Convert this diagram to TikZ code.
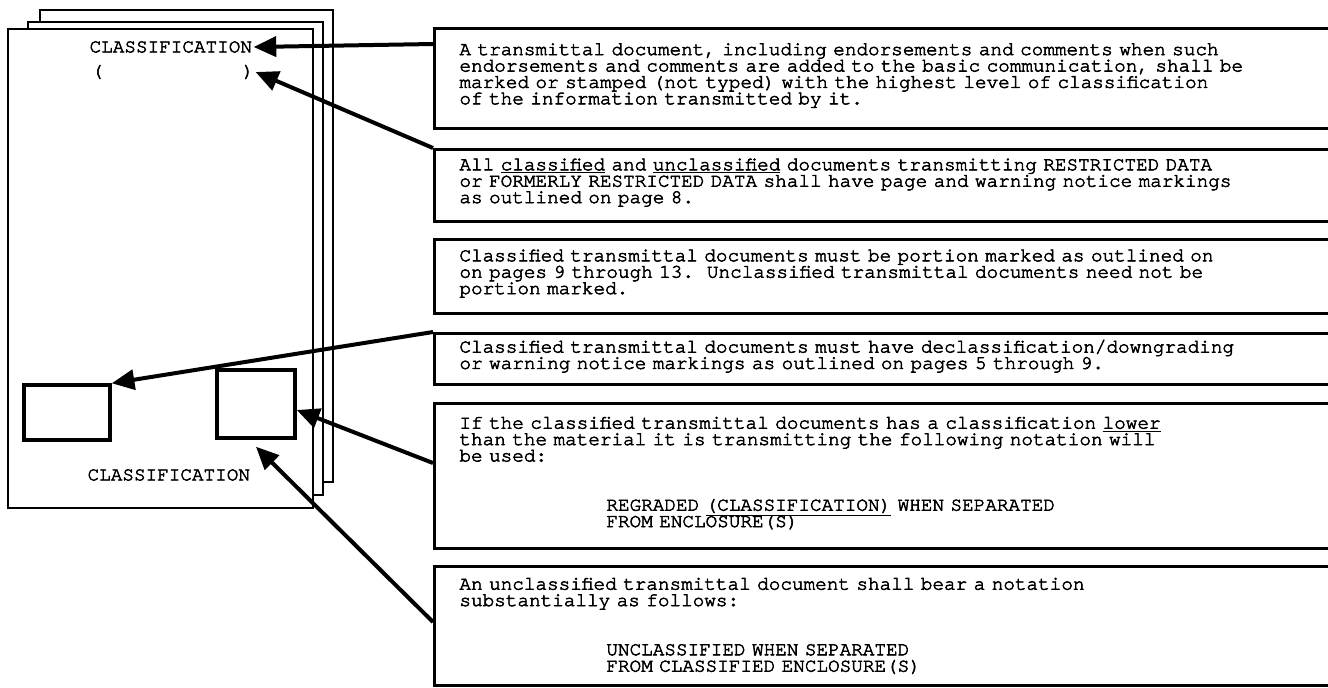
\documentclass[tikz,border=0pt]{standalone}
\usepackage{fontspec}
\newfontfamily\typer{texgyrecursor-regular.otf}[FakeBold=2.8]
\newcommand{\typewriter}{\typer\fontsize{14.5pt}{12.3pt}\selectfont\normalbaselineskip=12.3pt\lineskiplimit=-20pt\relax}
\usetikzlibrary{arrows.meta}

\begin{document}
\begin{tikzpicture}[x=0.75pt,y=-0.75pt]
	\tikzstyle{page} = [draw=black,fill=white,line width=2.2pt]
	\tikzstyle{typed} = [inner sep=1pt,font=\typewriter]
	\tikzstyle{stamp} = [draw=black,line width=2.6pt]
	\tikzstyle{note} = [typed,draw=black,line width=2.2pt,anchor=north west,inner xsep=18.75pt,inner ysep=2pt,text width=680pt,align=left]
	\tikzstyle{pointer} = [line width=3pt,-{Triangle[length=17pt,width=15pt]}]
	\useasboundingbox (0,0) rectangle (1328,687);
	\draw[page] (40,10) rectangle (333,482);
	\draw[page] (28,22) rectangle (323,495);
	\draw[page] (8,29) rectangle (313,508);
	\node[typed,anchor=west] (topcls) at (88,47) {CLASSIFICATION};
	\node[typed,anchor=west] (paren) at (90,72) {(\hspace{7.2em})};
	\node[typed,anchor=west] (botcls) at (86,475) {CLASSIFICATION};
	\node[stamp,minimum width=64.5pt,minimum height=41.25pt] (lbox) at (67,412.5) {};
	\node[stamp,minimum width=58.5pt,minimum height=51pt] (rbox) at (256,404) {};
	\node[note,minimum height=75pt] (b1) at (433,27) {A transmittal document, including endorsements and comments when such\\
		endorsements and comments are added to the basic communication, shall be\\
		marked or stamped (not typed) with the highest level of classification\\
		of the information transmitted by it.\rule[-7pt]{0pt}{0pt}};
	\node[note,minimum height=54pt] (b2) at (433,148) {All \underline{classified} and \underline{unclassified} documents transmitting RESTRICTED DATA\\
		or FORMERLY RESTRICTED DATA shall have page and warning notice markings\\
		as outlined on page 8.\rule[-7pt]{0pt}{0pt}};
	\node[note,minimum height=55.5pt] (b3) at (433,238) {Classified transmittal documents must be portion marked as outlined on\\
		on pages 9 through 13.\ \ Unclassified transmittal documents need not be\\
		portion marked.\rule[-7pt]{0pt}{0pt}};
	\node[note,minimum height=38.25pt] (b4) at (433,332) {Classified transmittal documents must have declassification/downgrading\\
		or warning notice markings as outlined on pages 5 through 9.\rule[-7pt]{0pt}{0pt}};
	\node[note,minimum height=108.75pt] (b5) at (433,402) {If the classified transmittal documents has a classification \underline{lower}\\
		than the material it is transmitting the following notation will\\
		be used:\\[24.6pt]
		\hspace*{7.6em}REGRADED \underline{(CLASSIFICATION)} WHEN SEPARATED\\
		\hspace*{7.6em}FROM ENCLOSURE(S)\rule[-6pt]{0pt}{0pt}};
	\node[note,minimum height=89.25pt] (b6) at (433,565) {An unclassified transmittal document shall bear a notation\\
		substantially as follows:\\[24.6pt]
		\hspace*{7.6em}UNCLASSIFIED WHEN SEPARATED\\
		\hspace*{7.6em}FROM CLASSIFIED ENCLOSURE(S)};
	\draw[pointer] ([yshift=-12.75pt]b1.north west) -- (topcls.east);
	\draw[pointer] (b2.north west) -- (paren.east);
	\draw[pointer] (b4.north west) -- (lbox.north east);
	\draw[pointer] ([yshift=-45.75pt]b5.north west) -- ([yshift=-4.5pt]rbox.east);
	\draw[pointer] ([yshift=-42.75pt]b6.north west) -- ([yshift=-5.25pt]rbox.south);
\end{tikzpicture}
\end{document}
